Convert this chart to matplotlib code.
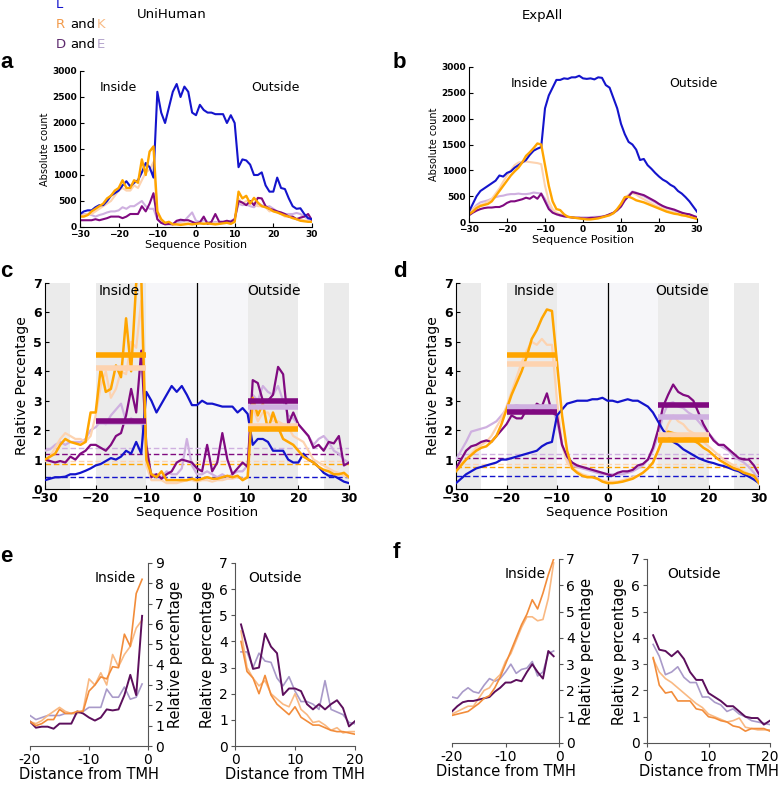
import numpy as np
from matplotlib import pyplot as plt

# ---------------- data ----------------
pos = list(range(-30, 31))
pos_in = list(range(-20, 0))
pos_out = list(range(1, 21))

# a: UniHuman absolute counts
a_L = [250, 300, 320, 320, 380, 420, 420, 500, 600, 650, 700, 800, 880, 780, 850, 900, 1050, 1230, 1150, 950,
       2600, 2200, 2000, 2300, 2600, 2750, 2500, 2700, 2600, 2200, 2150, 2350, 2250, 2200, 2200, 2170, 2170, 2170,
       2000, 2150, 2000, 1150, 1300, 1280, 1200, 1000, 1000, 1050, 800, 680, 680, 950, 750, 730, 550, 400, 350,
       360, 250, 170, 150]
a_R = [200, 200, 230, 300, 350, 400, 450, 550, 600, 700, 750, 900, 750, 750, 900, 850, 1300, 1000, 1450, 1550,
       300, 150, 80, 100, 50, 50, 40, 50, 60, 50, 60, 70, 60, 70, 60, 50, 60, 70, 80, 60, 100, 680, 550, 600,
       450, 560, 470, 400, 380, 350, 300, 280, 250, 220, 200, 170, 150, 120, 110, 100, 100]
a_K = [200, 230, 250, 250, 300, 350, 400, 450, 500, 600, 700, 750, 700, 700, 800, 750, 900, 1050, 1100, 1250,
       300, 100, 80, 70, 60, 60, 60, 70, 70, 60, 60, 70, 70, 60, 60, 70, 70, 80, 80, 90, 100, 550, 450, 500,
       500, 450, 400, 400, 380, 300, 320, 280, 250, 200, 200, 180, 160, 150, 130, 110, 100]
a_D = [130, 130, 130, 130, 150, 130, 150, 170, 200, 200, 200, 170, 200, 250, 250, 250, 400, 300, 450, 650,
       150, 80, 50, 60, 50, 120, 140, 130, 130, 100, 70, 90, 200, 60, 100, 250, 100, 100, 120, 100, 150, 500,
       470, 420, 500, 420, 560, 550, 400, 350, 330, 300, 280, 250, 200, 200, 150, 180, 200, 250, 130]
a_E = [250, 250, 250, 230, 200, 230, 250, 280, 300, 300, 320, 380, 350, 400, 400, 450, 500, 400, 350, 350,
       150, 80, 60, 50, 60, 100, 100, 120, 200, 280, 120, 100, 130, 100, 80, 100, 80, 80, 100, 120, 150, 450,
       420, 430, 400, 380, 450, 420, 380, 400, 350, 300, 250, 250, 250, 250, 270, 250, 200, 150, 130]

# b: ExpAll absolute counts
b_L = [200, 350, 500, 600, 650, 700, 750, 800, 900, 880, 950, 980, 1050, 1100, 1150, 1200, 1300, 1380, 1420,
       1450, 2200, 2450, 2600, 2750, 2750, 2780, 2770, 2800, 2800, 2830, 2780, 2770, 2780, 2760, 2800, 2790,
       2650, 2600, 2400, 2200, 1900, 1700, 1550, 1500, 1400, 1200, 1220, 1100, 1030, 950, 880, 820, 780, 720,
       680, 600, 550, 480, 400, 300, 200]
b_R = [150, 200, 270, 310, 330, 350, 400, 500, 600, 700, 800, 900, 980, 1050, 1150, 1280, 1350, 1430, 1520,
       1500, 1100, 700, 400, 250, 230, 150, 100, 90, 80, 70, 60, 50, 50, 60, 70, 90, 110, 130, 170, 250, 350,
       480, 490, 460, 420, 400, 380, 350, 320, 290, 260, 230, 200, 180, 160, 150, 130, 120, 100, 80, 60]
b_K = [200, 250, 300, 330, 350, 400, 450, 550, 650, 780, 900, 1000, 1100, 1150, 1170, 1170, 1160, 1150, 1140,
       1120, 700, 400, 250, 180, 150, 120, 100, 90, 80, 70, 60, 60, 60, 70, 80, 100, 120, 140, 180, 250, 350,
       480, 520, 560, 530, 480, 440, 400, 360, 320, 290, 260, 230, 200, 180, 160, 140, 120, 100, 80, 70]
b_D = [130, 180, 220, 250, 270, 280, 280, 290, 290, 320, 370, 400, 400, 420, 440, 470, 450, 500, 450, 550,
       400, 250, 180, 150, 130, 110, 100, 90, 80, 80, 70, 70, 80, 80, 90, 100, 120, 150, 180, 230, 300, 420,
       500, 580, 560, 540, 520, 480, 440, 400, 350, 310, 280, 260, 240, 210, 180, 160, 150, 120, 90]
b_E = [180, 250, 330, 380, 400, 420, 450, 480, 500, 510, 530, 540, 540, 550, 540, 540, 550, 570, 560, 550,
       450, 300, 200, 150, 120, 110, 100, 90, 90, 90, 90, 90, 90, 100, 100, 110, 120, 140, 170, 220, 300, 420,
       520, 590, 570, 530, 500, 460, 420, 380, 340, 300, 270, 250, 220, 200, 180, 160, 140, 120, 100]

# c: UniHuman relative percentage
c_L = [0.3, 0.35, 0.4, 0.4, 0.42, 0.5, 0.5, 0.55, 0.62, 0.7, 0.8, 0.85, 0.95, 1.05, 1.0, 1.1, 1.3, 1.2, 1.6,
       1.2, 3.3, 3.0, 2.6, 2.9, 3.2, 3.5, 3.3, 3.5, 3.2, 2.85, 2.85, 3.0, 2.9, 2.9, 2.85, 2.8, 2.8, 2.8, 2.6,
       2.75, 2.55, 1.5, 1.7, 1.7, 1.6, 1.3, 1.3, 1.3, 1.0, 0.9, 0.9, 1.2, 1.0, 0.9, 0.75, 0.55, 0.45, 0.45,
       0.35, 0.25, 0.2]
c_R = [1.0, 1.1, 1.2, 1.5, 1.7, 1.6, 1.55, 1.5, 1.6, 2.6, 2.6, 4.1, 3.3, 3.4, 4.2, 3.8, 5.8, 4.0, 7.0, 7.2,
       1.0, 0.5, 0.4, 0.6, 0.3, 0.3, 0.3, 0.3, 0.3, 0.35, 0.3, 0.35, 0.4, 0.35, 0.35, 0.4, 0.45, 0.4, 0.45,
       0.3, 0.4, 3.1, 2.5, 2.9, 2.0, 2.6, 2.1, 1.7, 1.6, 1.5, 1.3, 1.1, 1.0, 0.9, 0.75, 0.65, 0.6, 0.5, 0.5,
       0.55, 0.4]
c_K = [0.95, 1.1, 1.4, 1.7, 1.9, 1.8, 1.7, 1.7, 1.6, 1.8, 2.5, 3.5, 4.0, 3.1, 3.4, 4.0, 3.9, 5.0, 4.8, 6.4,
       0.8, 0.3, 0.3, 0.3, 0.2, 0.2, 0.2, 0.25, 0.3, 0.3, 0.25, 0.3, 0.3, 0.25, 0.3, 0.3, 0.35, 0.35, 0.4,
       0.35, 0.4, 2.8, 2.3, 2.6, 2.6, 2.3, 2.3, 2.2, 2.1, 1.8, 1.7, 1.6, 1.3, 1.0, 0.9, 0.8, 0.7, 0.6, 0.55,
       0.45, 0.4]
c_D = [1.0, 0.95, 0.9, 0.95, 0.9, 1.1, 1.0, 1.2, 1.3, 1.5, 1.5, 1.4, 1.3, 1.5, 1.8, 1.9, 2.5, 3.4, 2.6, 4.7,
       1.5, 0.4, 0.5, 0.35, 0.5, 0.6, 0.9, 1.0, 0.95, 0.9, 0.7, 0.6, 1.5, 0.6, 0.9, 1.9, 1.0, 0.5, 0.7, 0.9,
       0.75, 3.7, 3.6, 3.0, 3.0, 3.2, 4.15, 3.9, 2.2, 2.6, 2.2, 2.0, 1.8, 1.4, 1.5, 1.3, 1.6, 1.55, 1.8, 0.8,
       0.9]
c_E = [1.3, 1.35, 1.5, 1.6, 1.5, 1.6, 1.6, 1.6, 1.7, 2.0, 2.1, 2.3, 2.2, 2.5, 2.7, 2.9, 2.3, 2.4, 2.3, 2.3,
       1.3, 0.5, 0.5, 0.4, 0.6, 0.5, 0.5, 0.7, 1.7, 0.8, 0.5, 0.5, 0.6, 0.5, 0.4, 0.5, 0.4, 0.5, 0.6, 0.6,
       0.8, 3.2, 3.0, 3.5, 3.3, 3.2, 3.5, 3.0, 2.5, 2.4, 2.2, 2.0, 1.8, 1.5, 1.7, 1.8, 1.6, 1.3, 1.2, 1.0, 0.9]
c_in_means = {"R": 4.55, "K": 4.1, "E": 2.29, "D": 2.3}
c_out_means = {"D": 3.0, "E": 2.8, "K": 2.15, "R": 2.05}
c_base = {"E": 1.4, "D": 1.2, "K": 0.95, "R": 0.85, "L": 0.4}

# d: ExpAll relative percentage
d_L = [0.2, 0.35, 0.5, 0.6, 0.7, 0.75, 0.8, 0.85, 0.9, 1.0, 1.0, 1.05, 1.1, 1.15, 1.2, 1.25, 1.3, 1.45, 1.55,
       1.6, 2.5, 2.7, 2.9, 2.95, 3.0, 3.0, 3.0, 3.05, 3.05, 3.1, 3.0, 3.0, 2.95, 3.0, 3.05, 3.0, 3.0, 2.9, 2.8,
       2.6, 2.3, 2.0, 1.8, 1.6, 1.5, 1.35, 1.25, 1.15, 1.05, 0.98, 0.92, 0.88, 0.82, 0.78, 0.72, 0.65, 0.6,
       0.5, 0.42, 0.32, 0.2]
d_R = [0.6, 0.8, 1.0, 1.15, 1.3, 1.4, 1.45, 1.6, 1.8, 2.2, 2.7, 3.2, 3.6, 4.0, 4.5, 5.1, 5.4, 5.8, 6.1, 6.05,
       4.3, 2.5, 1.3, 0.7, 0.55, 0.45, 0.4, 0.4, 0.35, 0.25, 0.2, 0.2, 0.22, 0.25, 0.3, 0.35, 0.45, 0.55, 0.7,
       0.9, 1.3, 1.75, 1.95, 1.9, 1.85, 1.8, 1.75, 1.65, 1.55, 1.4, 1.3, 1.15, 1.0, 0.9, 0.8, 0.7, 0.65, 0.55,
       0.5, 0.45, 0.2]
d_K = [0.7, 0.85, 1.0, 1.2, 1.4, 1.5, 1.6, 1.8, 2.1, 2.4, 2.8, 3.3, 3.8, 4.3, 4.7, 5.0, 4.9, 5.1, 4.9, 4.9,
       3.0, 1.5, 0.9, 0.7, 0.6, 0.5, 0.45, 0.4, 0.35, 0.3, 0.25, 0.25, 0.25, 0.3, 0.35, 0.4, 0.45, 0.55, 0.7,
       0.9, 1.3, 1.7, 2.2, 2.5, 2.3, 2.2, 2.0, 1.9, 1.8, 1.6, 1.45, 1.3, 1.15, 1.0, 0.9, 0.8, 0.7, 0.6, 0.5,
       0.4, 0.25]
d_D = [0.7, 1.0, 1.3, 1.45, 1.5, 1.6, 1.65, 1.6, 1.8, 2.0, 2.2, 2.5, 2.4, 2.4, 2.7, 2.6, 2.9, 2.8, 3.25, 2.6,
       2.5, 1.5, 1.1, 0.9, 0.8, 0.75, 0.7, 0.65, 0.6, 0.55, 0.5, 0.45, 0.55, 0.6, 0.6, 0.65, 0.8, 0.85, 1.0,
       1.4, 2.0, 2.8, 3.2, 3.55, 3.3, 3.2, 3.15, 3.0, 2.6, 2.2, 1.9, 1.65, 1.5, 1.5, 1.35, 1.2, 1.05, 1.0,
       1.0, 0.8, 0.5]
d_E = [1.0, 1.3, 1.6, 1.95, 2.0, 2.05, 2.1, 2.2, 2.3, 2.5, 2.7, 2.8, 2.85, 2.8, 2.8, 2.8, 2.8, 2.85, 2.8,
       2.75, 2.3, 1.5, 1.0, 0.8, 0.75, 0.7, 0.65, 0.6, 0.55, 0.5, 0.5, 0.5, 0.5, 0.5, 0.55, 0.6, 0.7, 0.8,
       1.0, 1.3, 1.8, 2.5, 2.9, 2.95, 2.8, 2.75, 2.6, 2.5, 2.3, 2.1, 1.9, 1.7, 1.5, 1.4, 1.3, 1.1, 1.0, 0.9,
       0.75, 0.55, 0.3]
d_in_means = {"R": 4.57, "K": 4.25, "E": 2.8, "D": 2.62}
d_out_means = {"D": 2.85, "E": 2.45, "K": 1.85, "R": 1.65}
d_base = {"E": 1.2, "D": 1.05, "K": 0.85, "R": 0.75, "L": 0.45}

# e: UniHuman, distance from TMH
e_in_R = [1.2, 1.0, 1.1, 1.3, 1.3, 1.8, 1.6, 1.6, 1.7, 1.7, 2.7, 3.0, 3.4, 3.3, 3.9, 3.85, 5.5, 4.9, 7.5, 8.2]
e_in_K = [1.2, 1.1, 1.25, 1.5, 1.7, 1.9, 1.7, 1.6, 1.6, 1.75, 3.3, 3.0, 3.6, 3.0, 4.5, 3.9, 4.5, 4.9, 5.8, 6.2]
e_in_D = [1.2, 0.9, 0.95, 0.95, 0.85, 1.1, 1.1, 1.1, 1.7, 1.6, 1.4, 1.25, 1.4, 1.8, 1.75, 1.8, 2.5, 3.5, 2.5,
          6.4]
e_in_E = [1.5, 1.3, 1.4, 1.5, 1.5, 1.5, 1.6, 1.6, 1.6, 1.7, 1.9, 1.9, 1.9, 2.8, 2.4, 2.4, 2.9, 2.3, 2.4, 3.05]
e_out_D = [4.65, 3.8, 2.95, 3.0, 4.3, 3.8, 3.55, 1.95, 2.2, 2.2, 2.1, 1.6, 1.4, 1.6, 1.4, 1.6, 1.75, 1.45, 0.75,
           0.95]
e_out_E = [3.6, 3.6, 3.0, 3.55, 3.25, 3.2, 2.6, 2.3, 2.65, 2.1, 1.7, 1.7, 1.6, 1.4, 2.5, 1.4, 1.3, 1.2, 0.9,
           0.85]
e_out_R = [4.0, 2.85, 2.6, 2.0, 2.7, 1.95, 1.6, 1.4, 1.2, 1.5, 1.1, 0.95, 0.8, 0.8, 0.7, 0.6, 0.55, 0.55, 0.5,
           0.45]
e_out_K = [4.4, 3.0, 2.6, 2.3, 2.5, 2.0, 1.8, 1.6, 1.5, 2.0, 1.4, 1.2, 0.9, 0.95, 0.8, 0.6, 0.7, 0.5, 0.55,
           0.55]

# f: ExpAll, distance from TMH
f_in_R = [1.05, 1.1, 1.15, 1.2, 1.35, 1.5, 1.7, 1.8, 2.1, 2.5, 3.0, 3.5, 4.0, 4.5, 4.9, 5.45, 5.1, 5.7, 6.4,
          7.0]
f_in_K = [1.1, 1.2, 1.3, 1.4, 1.4, 1.7, 2.0, 2.1, 2.4, 2.6, 3.1, 3.4, 3.9, 4.4, 4.8, 4.8, 4.65, 4.7, 5.5, 6.85]
f_in_D = [1.2, 1.4, 1.55, 1.6, 1.6, 1.65, 1.7, 1.75, 1.95, 2.1, 2.3, 2.3, 2.4, 2.35, 2.7, 3.0, 2.7, 2.45, 3.5,
          3.3]
f_in_E = [1.75, 1.7, 1.95, 2.1, 1.95, 1.9, 2.2, 2.45, 2.35, 2.45, 2.7, 3.0, 2.65, 2.8, 2.85, 3.1, 2.55, 2.7,
          3.4, 3.5]
f_out_D = [4.1, 3.55, 3.5, 3.3, 3.5, 3.2, 2.7, 2.4, 2.4, 1.9, 1.75, 1.6, 1.4, 1.4, 1.2, 1.0, 0.95, 0.95, 0.7,
           0.85]
f_out_E = [3.75, 3.3, 2.6, 2.7, 2.9, 2.5, 2.3, 2.3, 1.75, 1.75, 1.55, 1.45, 1.2, 1.3, 1.1, 1.0, 0.85, 0.8,
           0.75, 0.7]
f_out_R = [3.25, 2.2, 1.9, 1.95, 1.6, 1.6, 1.6, 1.3, 1.25, 1.0, 0.95, 0.85, 0.8, 0.65, 0.6, 0.45, 0.55, 0.55,
           0.55, 0.45]
f_out_K = [3.2, 2.7, 2.45, 2.3, 2.1, 1.9, 1.7, 1.5, 1.35, 1.1, 1.0, 0.9, 0.8, 0.85, 0.95, 0.6, 0.55, 0.5, 0.5,
           0.5]

# ---------------- style ----------------
col = {"L": "#1414cc", "R": "#ffa500", "K": "#fdd3b0", "D": "#800a80", "E": "#cfb0e0"}
col2 = {"R": "#f28c3a", "K": "#f9b983", "D": "#5c0f5c", "E": "#a99ac9"}

W, H = 778, 785
fig = plt.figure(figsize=(W / 100, H / 100), dpi=100)


def px_axes(left, top, right, bottom):
    return fig.add_axes([left / W, 1 - bottom / H, (right - left) / W, (bottom - top) / H])


def abs_panel(ax, L, R, K, D, E, inside_x, outside_x):
    ax.plot(pos, E, color=col["E"], lw=1.5)
    ax.plot(pos, K, color=col["K"], lw=1.5)
    ax.plot(pos, D, color=col["D"], lw=1.5)
    ax.plot(pos, L, color=col["L"], lw=1.5)
    ax.plot(pos, R, color=col["R"], lw=1.7)
    ax.set_xlim(-30, 30)
    ax.set_ylim(0, 3000)
    ax.set_xticks([-30, -20, -10, 0, 10, 20, 30])
    ax.set_yticks(range(0, 3001, 500))
    for s in ["top", "right"]:
        ax.spines[s].set_visible(False)
    ax.tick_params(direction="in", length=3, labelsize=6.5, pad=2)
    for t in ax.get_xticklabels() + ax.get_yticklabels():
        t.set_fontweight("bold")
    ax.set_ylabel("Absolute count", fontsize=7, labelpad=2)
    ax.set_xlabel("Sequence Position", fontsize=8, labelpad=1)
    ax.text(inside_x, 2680, "Inside", fontsize=9, ha="center", va="center")
    ax.text(outside_x, 2680, "Outside", fontsize=9, ha="center", va="center")


def rel_panel(ax, L, R, K, D, E, in_means, out_means, base, inside_x, outside_x):
    for a0, a1, c in [(-30, -25, "#ebebeb"), (-20, -10, "#ebebeb"), (10, 20, "#ebebeb"),
                      (25, 30, "#ebebeb"), (-10, 10, "#f6f6f9")]:
        ax.axvspan(a0, a1, color=c, lw=0, zorder=0)
    ax.axvline(0, color="black", lw=0.9, zorder=1)
    for k in ["E", "D", "K", "R", "L"]:
        ax.axhline(base[k], color=col[k], lw=1.0, ls=(0, (4, 2)), zorder=2)
    ax.plot(pos, E, color=col["E"], lw=1.6, zorder=3)
    ax.plot(pos, K, color=col["K"], lw=1.6, zorder=3)
    ax.plot(pos, D, color=col["D"], lw=1.6, zorder=3)
    ax.plot(pos, L, color=col["L"], lw=1.6, zorder=3)
    ax.plot(pos, R, color=col["R"], lw=1.8, zorder=3)
    for k in ["E", "D", "K", "R"]:
        ax.hlines(in_means[k], -20, -10, color=col[k], lw=4, zorder=4)
    for k in ["E", "K", "D", "R"]:
        ax.hlines(out_means[k], 10, 20, color=col[k], lw=4, zorder=4)
    ax.set_xlim(-30, 30)
    ax.set_ylim(0, 7)
    ax.set_xticks([-30, -20, -10, 0, 10, 20, 30])
    ax.set_yticks(range(0, 8))
    for s in ["top", "right"]:
        ax.spines[s].set_visible(False)
    ax.tick_params(direction="in", length=3, labelsize=9, pad=2)
    for t in ax.get_xticklabels() + ax.get_yticklabels():
        t.set_fontweight("bold")
    ax.set_ylabel("Relative Percentage", fontsize=10, labelpad=3)
    ax.set_xlabel("Sequence Position", fontsize=9.5, labelpad=1)
    ax.text(inside_x, 6.72, "Inside", fontsize=10, ha="center", va="center", zorder=5)
    ax.text(outside_x, 6.72, "Outside", fontsize=10, ha="center", va="center", zorder=5)


def dist_panel(ax, xs, R, K, D, E, side, ymax, label, lab_x):
    ax.plot(xs, E, color=col2["E"], lw=1.2)
    ax.plot(xs, K, color=col2["K"], lw=1.2)
    ax.plot(xs, D, color=col2["D"], lw=1.4)
    ax.plot(xs, R, color=col2["R"], lw=1.2)
    ax.set_ylim(0, ymax)
    ax.set_yticks(range(0, ymax + 1))
    ax.spines["top"].set_visible(False)
    if side == "in":
        ax.set_xlim(-20, 0)
        ax.set_xticks([-20, -10, 0])
        ax.set_xticklabels(["-20", "-10", "0"])
        ax.spines["left"].set_visible(False)
        ax.yaxis.tick_right()
        ax.yaxis.set_label_position("right")
    else:
        ax.set_xlim(0, 20)
        ax.set_xticks([0, 10, 20])
        ax.spines["right"].set_visible(False)
    for s in ["left", "right", "bottom"]:
        ax.spines[s].set_color("#555555")
    ax.tick_params(length=3, labelsize=10, color="#555555", pad=2)
    ax.set_ylabel("Relative percentage", fontsize=10.5, labelpad=3)
    ax.set_xlabel("Distance from TMH", fontsize=10.5, labelpad=0)
    ax.text(lab_x, 0.92, label, fontsize=10, ha="center", va="center", transform=ax.transAxes)


# ---------------- panels ----------------
ax_a = px_axes(80, 71, 312, 227)
abs_panel(ax_a, a_L, a_R, a_K, a_D, a_E, -20, 20.5)

ax_b = px_axes(469, 67, 697, 222)
abs_panel(ax_b, b_L, b_R, b_K, b_D, b_E, -14, 29)

ax_c = px_axes(45, 283, 349, 489)
rel_panel(ax_c, c_L, c_R, c_K, c_D, c_E, c_in_means, c_out_means, c_base, -15.3, 15.2)

ax_d = px_axes(456, 283, 759, 489)
rel_panel(ax_d, d_L, d_R, d_K, d_D, d_E, d_in_means, d_out_means, d_base, -14.5, 14.7)

ax_e1 = px_axes(30, 563, 148, 746)
dist_panel(ax_e1, pos_in, e_in_R, e_in_K, e_in_D, e_in_E, "in", 9, "Inside", 0.72)
ax_e2 = px_axes(235, 563, 355, 746)
dist_panel(ax_e2, pos_out, e_out_R, e_out_K, e_out_D, e_out_E, "out", 7, "Outside", 0.33)

ax_f1 = px_axes(452, 559, 559, 743)
dist_panel(ax_f1, pos_in, f_in_R, f_in_K, f_in_D, f_in_E, "in", 7, "Inside", 0.68)
ax_f2 = px_axes(647, 559, 770, 743)
dist_panel(ax_f2, pos_out, f_out_R, f_out_K, f_out_D, f_out_E, "out", 7, "Outside", 0.38)

# ---------------- figure texts ----------------
def ftext(x, y, s, **kw):
    fig.text(x / W, 1 - y / H, s, va="center", **kw)


ftext(56, 5, "L", color=col["L"], fontsize=9.5)
ftext(56, 25, "R", color="#f29a4a", fontsize=9.5)
ftext(70, 25, "and", color="black", fontsize=9.5)
ftext(97, 25, "K", color="#f8bb85", fontsize=9.5)
ftext(56, 44, "D", color="#5e2a6e", fontsize=9.5)
ftext(70, 44, "and", color="black", fontsize=9.5)
ftext(97, 44, "E", color="#b4a4cc", fontsize=9.5)
ftext(172, 15, "UniHuman", ha="center", fontsize=9.5)
ftext(542, 15, "ExpAll", ha="center", fontsize=9.5)

for x, y, s in [(0, 62, "a"), (393, 62, "b"), (0, 272, "c"), (393, 272, "d"), (0, 557, "e"), (393, 553, "f")]:
    ftext(x, y, s, fontsize=16, fontweight="bold", family="Liberation Sans")

fig.savefig("out.png", dpi=100)
plt.close()
